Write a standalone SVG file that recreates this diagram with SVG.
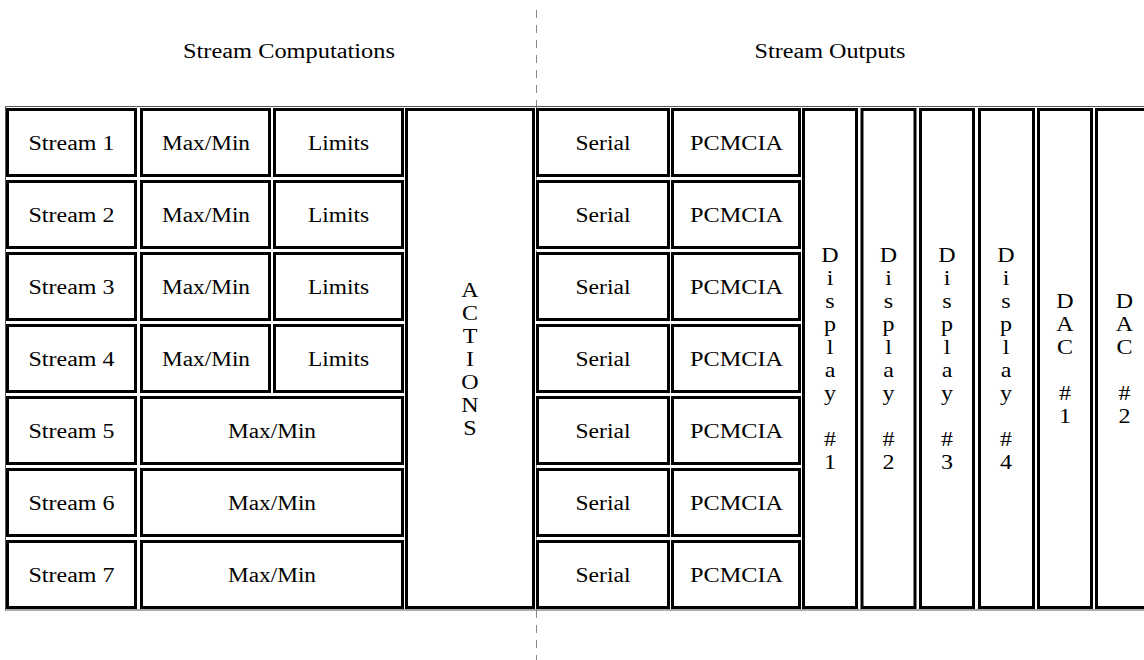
<svg xmlns="http://www.w3.org/2000/svg" width="1144" height="660" viewBox="0 0 1144 660">
<style>
  .cell{fill:#fff;stroke:#000;stroke-width:3}
  .t{font-family:"Liberation Serif","Times New Roman",serif;font-size:20px;fill:#000;text-anchor:middle}
  .divider{stroke:#888;stroke-width:1;stroke-dasharray:8 7;fill:none}
  .frame{fill:none;stroke:#555;stroke-width:1}
</style>
<rect width="1144" height="660" fill="#fff"/>
<g id="connectors">
  <line class="divider" x1="536.5" y1="10" x2="536.5" y2="660"/>
</g>
<rect class="frame" x="5.5" y="106.5" width="1160" height="503.5"/>
<g id="headings">
  <text class="t" x="289" y="58" textLength="212" lengthAdjust="spacingAndGlyphs">Stream Computations</text>
  <text class="t" x="830" y="58" textLength="151" lengthAdjust="spacingAndGlyphs">Stream Outputs</text>
</g>
<g id="stream1"><rect class="cell" x="7.5" y="109.5" width="128" height="66"/><text class="t" x="71.5" y="150" textLength="86" lengthAdjust="spacingAndGlyphs">Stream 1</text></g>
<g id="stream2"><rect class="cell" x="7.5" y="181.5" width="128" height="66"/><text class="t" x="71.5" y="222" textLength="86" lengthAdjust="spacingAndGlyphs">Stream 2</text></g>
<g id="stream3"><rect class="cell" x="7.5" y="253.5" width="128" height="66"/><text class="t" x="71.5" y="294" textLength="86" lengthAdjust="spacingAndGlyphs">Stream 3</text></g>
<g id="stream4"><rect class="cell" x="7.5" y="325.5" width="128" height="66"/><text class="t" x="71.5" y="366" textLength="86" lengthAdjust="spacingAndGlyphs">Stream 4</text></g>
<g id="stream5"><rect class="cell" x="7.5" y="397.5" width="128" height="66"/><text class="t" x="71.5" y="438" textLength="86" lengthAdjust="spacingAndGlyphs">Stream 5</text></g>
<g id="stream6"><rect class="cell" x="7.5" y="469.5" width="128" height="66"/><text class="t" x="71.5" y="510" textLength="86" lengthAdjust="spacingAndGlyphs">Stream 6</text></g>
<g id="stream7"><rect class="cell" x="7.5" y="541.5" width="128" height="66"/><text class="t" x="71.5" y="582" textLength="86" lengthAdjust="spacingAndGlyphs">Stream 7</text></g>

<g id="maxmin1"><rect class="cell" x="141.5" y="109.5" width="128" height="66"/><text class="t" x="206" y="150" textLength="88" lengthAdjust="spacingAndGlyphs">Max/Min</text></g>
<g id="maxmin2"><rect class="cell" x="141.5" y="181.5" width="128" height="66"/><text class="t" x="206" y="222" textLength="88" lengthAdjust="spacingAndGlyphs">Max/Min</text></g>
<g id="maxmin3"><rect class="cell" x="141.5" y="253.5" width="128" height="66"/><text class="t" x="206" y="294" textLength="88" lengthAdjust="spacingAndGlyphs">Max/Min</text></g>
<g id="maxmin4"><rect class="cell" x="141.5" y="325.5" width="128" height="66"/><text class="t" x="206" y="366" textLength="88" lengthAdjust="spacingAndGlyphs">Max/Min</text></g>
<g id="maxmin5"><rect class="cell" x="141.5" y="397.5" width="261" height="66"/><text class="t" x="272" y="438" textLength="88" lengthAdjust="spacingAndGlyphs">Max/Min</text></g>
<g id="maxmin6"><rect class="cell" x="141.5" y="469.5" width="261" height="66"/><text class="t" x="272" y="510" textLength="88" lengthAdjust="spacingAndGlyphs">Max/Min</text></g>
<g id="maxmin7"><rect class="cell" x="141.5" y="541.5" width="261" height="66"/><text class="t" x="272" y="582" textLength="88" lengthAdjust="spacingAndGlyphs">Max/Min</text></g>

<g id="limits1"><rect class="cell" x="274.5" y="109.5" width="128" height="66"/><text class="t" x="338.5" y="150" textLength="61" lengthAdjust="spacingAndGlyphs">Limits</text></g>
<g id="limits2"><rect class="cell" x="274.5" y="181.5" width="128" height="66"/><text class="t" x="338.5" y="222" textLength="61" lengthAdjust="spacingAndGlyphs">Limits</text></g>
<g id="limits3"><rect class="cell" x="274.5" y="253.5" width="128" height="66"/><text class="t" x="338.5" y="294" textLength="61" lengthAdjust="spacingAndGlyphs">Limits</text></g>
<g id="limits4"><rect class="cell" x="274.5" y="325.5" width="128" height="66"/><text class="t" x="338.5" y="366" textLength="61" lengthAdjust="spacingAndGlyphs">Limits</text></g>

<g id="actions"><rect class="cell" x="406.5" y="109.5" width="127" height="498"/>
  <text class="t" transform="matrix(1.2 0 0 1 470 0)"><tspan x="0" y="297">A</tspan><tspan x="0" y="320">C</tspan><tspan x="0" y="343">T</tspan><tspan x="0" y="366">I</tspan><tspan x="0" y="389">O</tspan><tspan x="0" y="412">N</tspan><tspan x="0" y="435">S</tspan></text></g>

<g id="serial1"><rect class="cell" x="537.5" y="109.5" width="131" height="66"/><text class="t" x="603" y="150" textLength="55" lengthAdjust="spacingAndGlyphs">Serial</text></g>
<g id="serial2"><rect class="cell" x="537.5" y="181.5" width="131" height="66"/><text class="t" x="603" y="222" textLength="55" lengthAdjust="spacingAndGlyphs">Serial</text></g>
<g id="serial3"><rect class="cell" x="537.5" y="253.5" width="131" height="66"/><text class="t" x="603" y="294" textLength="55" lengthAdjust="spacingAndGlyphs">Serial</text></g>
<g id="serial4"><rect class="cell" x="537.5" y="325.5" width="131" height="66"/><text class="t" x="603" y="366" textLength="55" lengthAdjust="spacingAndGlyphs">Serial</text></g>
<g id="serial5"><rect class="cell" x="537.5" y="397.5" width="131" height="66"/><text class="t" x="603" y="438" textLength="55" lengthAdjust="spacingAndGlyphs">Serial</text></g>
<g id="serial6"><rect class="cell" x="537.5" y="469.5" width="131" height="66"/><text class="t" x="603" y="510" textLength="55" lengthAdjust="spacingAndGlyphs">Serial</text></g>
<g id="serial7"><rect class="cell" x="537.5" y="541.5" width="131" height="66"/><text class="t" x="603" y="582" textLength="55" lengthAdjust="spacingAndGlyphs">Serial</text></g>

<g id="pcmcia1"><rect class="cell" x="672.5" y="109.5" width="127" height="66"/><text class="t" x="736.5" y="150" textLength="93" lengthAdjust="spacingAndGlyphs">PCMCIA</text></g>
<g id="pcmcia2"><rect class="cell" x="672.5" y="181.5" width="127" height="66"/><text class="t" x="736.5" y="222" textLength="93" lengthAdjust="spacingAndGlyphs">PCMCIA</text></g>
<g id="pcmcia3"><rect class="cell" x="672.5" y="253.5" width="127" height="66"/><text class="t" x="736.5" y="294" textLength="93" lengthAdjust="spacingAndGlyphs">PCMCIA</text></g>
<g id="pcmcia4"><rect class="cell" x="672.5" y="325.5" width="127" height="66"/><text class="t" x="736.5" y="366" textLength="93" lengthAdjust="spacingAndGlyphs">PCMCIA</text></g>
<g id="pcmcia5"><rect class="cell" x="672.5" y="397.5" width="127" height="66"/><text class="t" x="736.5" y="438" textLength="93" lengthAdjust="spacingAndGlyphs">PCMCIA</text></g>
<g id="pcmcia6"><rect class="cell" x="672.5" y="469.5" width="127" height="66"/><text class="t" x="736.5" y="510" textLength="93" lengthAdjust="spacingAndGlyphs">PCMCIA</text></g>
<g id="pcmcia7"><rect class="cell" x="672.5" y="541.5" width="127" height="66"/><text class="t" x="736.5" y="582" textLength="93" lengthAdjust="spacingAndGlyphs">PCMCIA</text></g>

<g id="display1"><rect class="cell" x="803.5" y="109.5" width="53" height="498"/>
  <text class="t" transform="matrix(1.2 0 0 1 830 0)"><tspan x="0" y="262">D</tspan><tspan x="0" y="285">i</tspan><tspan x="0" y="308">s</tspan><tspan x="0" y="331">p</tspan><tspan x="0" y="354">l</tspan><tspan x="0" y="377">a</tspan><tspan x="0" y="400">y</tspan><tspan x="0" y="446">#</tspan><tspan x="0" y="469">1</tspan></text></g>
<g id="display2"><rect class="cell" x="862" y="109.5" width="53" height="498"/>
  <text class="t" transform="matrix(1.2 0 0 1 888.5 0)"><tspan x="0" y="262">D</tspan><tspan x="0" y="285">i</tspan><tspan x="0" y="308">s</tspan><tspan x="0" y="331">p</tspan><tspan x="0" y="354">l</tspan><tspan x="0" y="377">a</tspan><tspan x="0" y="400">y</tspan><tspan x="0" y="446">#</tspan><tspan x="0" y="469">2</tspan></text></g>
<g id="display3"><rect class="cell" x="920.5" y="109.5" width="53" height="498"/>
  <text class="t" transform="matrix(1.2 0 0 1 947 0)"><tspan x="0" y="262">D</tspan><tspan x="0" y="285">i</tspan><tspan x="0" y="308">s</tspan><tspan x="0" y="331">p</tspan><tspan x="0" y="354">l</tspan><tspan x="0" y="377">a</tspan><tspan x="0" y="400">y</tspan><tspan x="0" y="446">#</tspan><tspan x="0" y="469">3</tspan></text></g>
<g id="display4"><rect class="cell" x="979.5" y="109.5" width="54" height="498"/>
  <text class="t" transform="matrix(1.2 0 0 1 1006 0)"><tspan x="0" y="262">D</tspan><tspan x="0" y="285">i</tspan><tspan x="0" y="308">s</tspan><tspan x="0" y="331">p</tspan><tspan x="0" y="354">l</tspan><tspan x="0" y="377">a</tspan><tspan x="0" y="400">y</tspan><tspan x="0" y="446">#</tspan><tspan x="0" y="469">4</tspan></text></g>
<g id="dac1"><rect class="cell" x="1038.5" y="109.5" width="53" height="498"/>
  <text class="t" transform="matrix(1.2 0 0 1 1065 0)"><tspan x="0" y="308">D</tspan><tspan x="0" y="331">A</tspan><tspan x="0" y="354">C</tspan><tspan x="0" y="400">#</tspan><tspan x="0" y="423">1</tspan></text></g>
<g id="dac2"><rect class="cell" x="1096.5" y="109.5" width="60" height="498"/>
  <text class="t" transform="matrix(1.2 0 0 1 1124.5 0)"><tspan x="0" y="308">D</tspan><tspan x="0" y="331">A</tspan><tspan x="0" y="354">C</tspan><tspan x="0" y="400">#</tspan><tspan x="0" y="423">2</tspan></text></g>
</svg>
